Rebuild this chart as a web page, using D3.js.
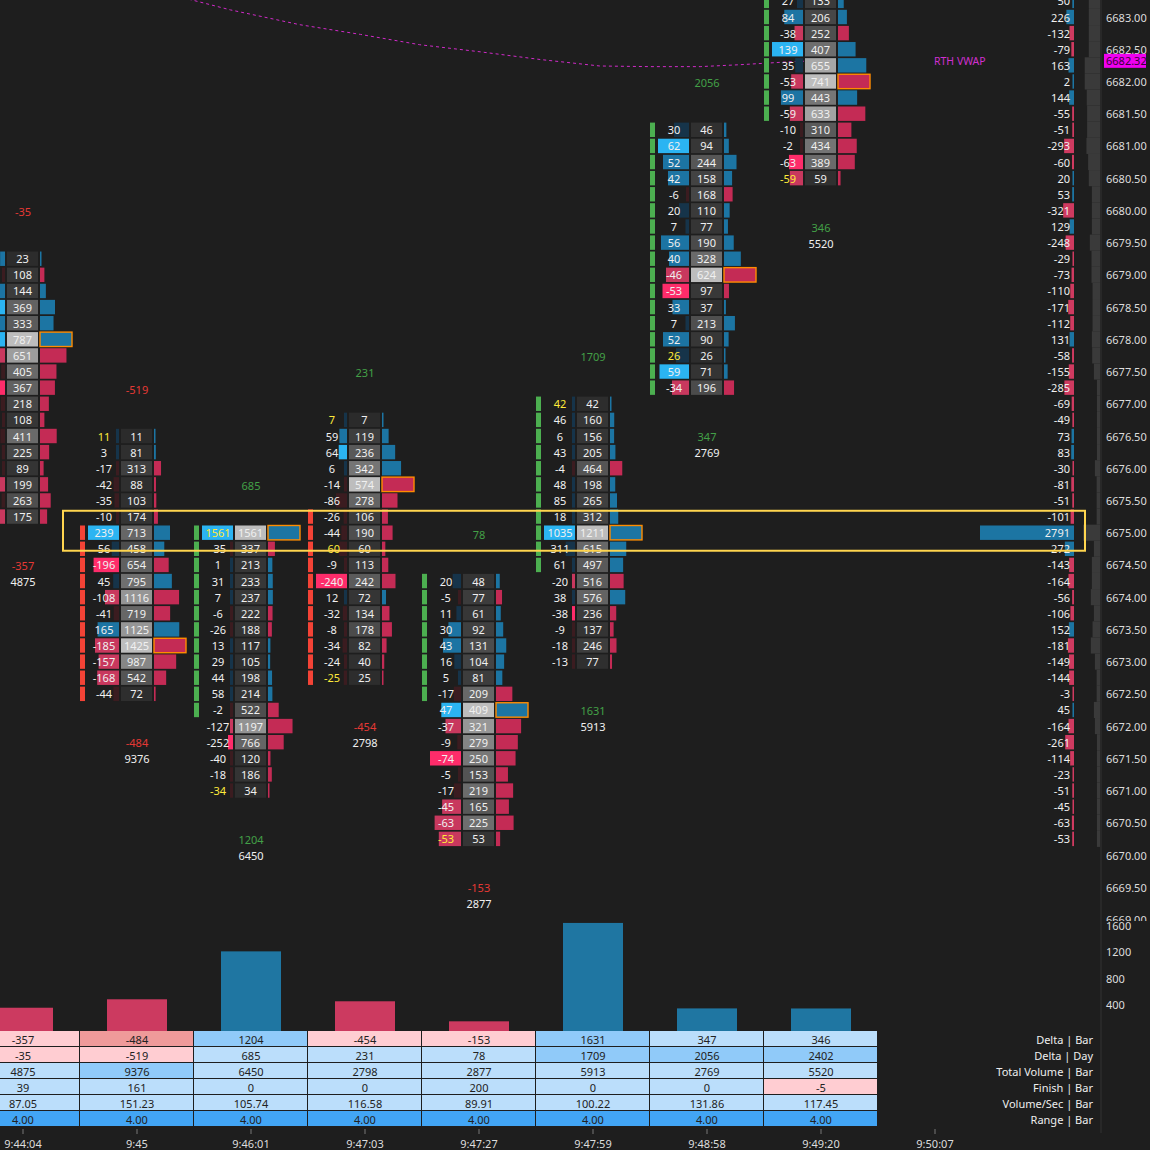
<!DOCTYPE html>
<html><head><meta charset="utf-8">
<script src="https://cdn.jsdelivr.net/npm/d3@7"></script>
<style>
html,body{margin:0;padding:0;background:#1e1e1e;overflow:hidden;}
svg{display:block;}
text{font-family:"Noto Sans","Open Sans",sans-serif;}
</style></head><body>
<svg id="c" width="1150" height="1150"></svg>
<script>
// ---------- DATA ----------
const times = ["9:44:04","9:45","9:46:01","9:47:03","9:47:27","9:47:59","9:48:58","9:49:20","9:50:07"];
const barTopPrice = [6679.25, 6676.50, 6675.00, 6676.75, 6674.25, 6677.00, 6681.25, 6684.50];
const bodyOpen  = [6679.00, 6675.00, 6672.25, 6675.25, 6672.50, 6674.50, 6677.25, 6681.50];
const bodyClose = [6675.25, 6672.50, 6675.00, 6672.75, 6674.25, 6677.00, 6681.25, 6684.50];

const bar1Delta  = [23,-12,28,43,30,44,-90,-18,-146,-20,-10,-22,-15,-9,-85,-16,-82];
const bar1Volume = [23,108,144,369,333,787,651,405,367,218,108,411,225,89,199,263,175];
const bar2Delta  = [11,3,-17,-42,-35,-10,239,56,-196,45,-108,-41,165,-185,-157,-168,-44];
const bar2Volume = [11,81,313,88,103,174,713,458,654,795,1116,719,1125,1425,987,542,72];
const bar3Delta  = [1561,-35,1,31,7,-6,-26,13,29,44,58,-2,-127,-252,-40,-18,-34];
const bar3Volume = [1561,337,213,233,237,222,188,117,105,198,214,522,1197,766,120,186,34];
const bar4Delta  = [7,59,64,6,-14,-86,-26,-44,-60,-9,-240,12,-32,-8,-34,-24,-25];
const bar4Volume = [7,119,236,342,574,278,106,190,60,113,242,72,134,178,82,40,25];
const bar5Delta  = [20,-5,11,30,43,16,5,-17,47,-37,-9,-74,-5,-17,-45,-63,-53];
const bar5Volume = [48,77,61,92,131,104,81,209,409,321,279,250,153,219,165,225,53];
const bar6Delta  = [42,46,6,43,-4,48,85,18,1035,311,61,-20,38,-38,-9,-18,-13];
const bar6Volume = [42,160,156,205,464,198,265,312,1211,615,497,516,576,236,137,246,77];
const bar7Delta  = [30,62,52,42,-6,20,7,56,40,-46,-53,33,7,52,26,59,-34];
const bar7Volume = [46,94,244,158,168,110,77,190,328,624,97,37,213,90,26,71,196];
const bar8Delta  = [31,52,64,45,54,27,84,-38,139,35,-53,99,-59,-10,-2,-63,-59];
const bar8Volume = [31,120,218,236,253,133,206,252,407,655,741,443,633,310,434,389,59];

const deltaBar    = [-357,-484,1204,-454,-153,1631,347,346];
const deltaDay    = [-35,-519,685,231,78,1709,2056,2402];
const totalVolume = [4875,9376,6450,2798,2877,5913,2769,5520];
const finishBar   = [39,161,0,0,200,0,0,-5];
const volumePerSec= [87.05,151.23,105.74,116.58,89.91,100.22,131.86,117.45];
const rangeBar    = [4,4,4,4,4,4,4,4];
const tableLabels = ["Delta | Bar","Delta | Day","Total Volume | Bar","Finish | Bar","Volume/Sec | Bar","Range | Bar"];

const profileTop = 6683.25;
const profileDelta = [50,226,-132,-79,163,2,144,-55,-51,-293,-60,20,53,-321,129,-248,-29,-73,-110,-171,-112,131,-58,-155,-285,-69,-49,73,83,-30,-81,-51,-101,2791,272,-143,-164,-56,-106,152,-181,-149,-144,-3,45,-164,-261,-114,-23,-51,-45,-63,-53];
const profileVolume = [2420,2420,2420,2420,3300,3300,2860,2790,2790,2930,2570,2420,1760,1760,1760,2200,1830,1830,1610,1610,1610,1760,1690,1320,660,660,660,660,660,1100,730,730,730,3675,1320,1760,1760,1980,1320,1610,1980,1100,730,730,1320,1100,660,660,660,660,660,660,660];

const vwapIndex = [1.25,1.82,2.43,2.96,3.48,4.01,4.54,5.06,5.5,5.94,6.29,6.77,7.0];
const vwapPrice = [6683.37,6683.11,6682.88,6682.73,6682.57,6682.46,6682.34,6682.24,6682.23,6682.23,6682.26,6682.31,6682.32];
const vwapLast = 6682.32;
const zoneHigh = 6675.34, zoneLow = 6674.72;
const priceTicks = d3.range(6683.0, 6668.9, -0.5);
const volTicks = [400,800,1200,1600];

const deltas = [bar1Delta,bar2Delta,bar3Delta,bar4Delta,bar5Delta,bar6Delta,bar7Delta,bar8Delta];
const volumes = [bar1Volume,bar2Volume,bar3Volume,bar4Volume,bar5Volume,bar6Volume,bar7Volume,bar8Volume];

// ---------- SCALES ----------
const svg = d3.select("#c");
const x = d3.scaleLinear().domain([0,8]).range([23,935]);
const y = d3.scaleLinear().domain([6670,6683]).range([855,17]);
const vy = d3.scaleLinear().domain([0,1600]).range([1031.5,925]);
const rowH = Math.abs(y(6670) - y(6670.25));
const cellH = rowH - 1.7;
const FS = "11px";

const C = {
  bg:"#1e1e1e", posB:"#2bb4f2", posM:"#1c74a3", posD:"#16344a",
  negB:"#fe2c6a", negM:"#c8385e", negD:"#3b1c20",
  histPos:"#1c75a3", histNeg:"#c42b55", green:"#4caf50", red:"#f44336",
  lblG:"#43a047", lblR:"#e53935", yellow:"#ffeb3b", txt:"#f0f0f0"
};

svg.append("rect").attr("width",1150).attr("height",1150).attr("fill",C.bg);
svg.append("clipPath").attr("id","axclip").append("rect").attr("x",1100).attr("y",0).attr("width",50).attr("height",921);

const pricePanel = svg.append("g");

// gray volume profile
const pMax = d3.max(profileVolume);
const pw = d3.scaleLinear().domain([0,pMax]).range([0,17]);
pricePanel.selectAll("rect.gp").data(profileVolume).join("rect")
  .attr("x",d=>1100-pw(d)).attr("width",d=>pw(d))
  .attr("y",(d,i)=>y(profileTop-0.25*i)-rowH/2).attr("height",rowH)
  .attr("fill","#3a3a3a");

// VWAP line
const vw = d3.line().x(d=>x(d[0])).y(d=>y(d[1]));
pricePanel.append("path").datum(vwapIndex.map((v,i)=>[v,vwapPrice[i]]))
  .attr("d",vw).attr("fill","none").attr("stroke","#d02ac8").attr("stroke-width",1)
  .attr("stroke-dasharray","3,3");

// footprint columns
deltas.forEach((dArr,bi)=>{
  const vArr = volumes[bi];
  const c = x(bi);
  const prices = dArr.map((d,k)=>barTopPrice[bi]-0.25*k);
  const posMax = d3.max(dArr.filter(d=>d>0)) || 1;
  const negMax = d3.max(dArr.filter(d=>d<0).map(d=>-d)) || 1;
  const absMax = d3.max(dArr,d=>Math.abs(d));
  const vMax = d3.max(vArr);
  const g = pricePanel.append("g");
  const lo = Math.min(bodyOpen[bi],bodyClose[bi]), hi = Math.max(bodyOpen[bi],bodyClose[bi]);
  const stripCol = bodyClose[bi] > bodyOpen[bi] ? C.green : C.red;
  const dw = d3.scaleLinear().domain([0,absMax]).range([0,31]);
  const hw = d3.scaleLinear().domain([0,vMax]).range([0,32]);
  const gray = v => { const r = Math.pow(v/vMax,1.3); const k = Math.round(43 + 146*r); return `rgb(${k},${k},${k})`; };
  prices.forEach((p,k)=>{
    const d = dArr[k], v = vArr[k], yc = y(p), yt = yc - cellH/2;
    if (p >= lo-1e-6 && p <= hi+1e-6) {
      g.append("rect").attr("x",c-57).attr("y",yt).attr("width",5).attr("height",cellH).attr("fill",stripCol);
    }
    const r = d>0 ? d/posMax : -d/negMax;
    const tier = r>=0.95 ? 2 : (r>=0.5 ? 1 : 0);
    const col = d>0 ? [C.posD,C.posM,C.posB][tier] : [C.negD,C.negM,C.negB][tier];
    const w = Math.max(3, dw(Math.abs(d)));
    g.append("rect").attr("x",c-18-w).attr("y",yt).attr("width",w).attr("height",cellH).attr("fill",col);
    g.append("rect").attr("x",c-16).attr("y",yt).attr("width",31).attr("height",cellH).attr("fill",gray(v));
    const hwid = Math.max(1.5,hw(v));
    const hr = g.append("rect").attr("x",c+17).attr("y",yt).attr("width",hwid).attr("height",cellH)
      .attr("fill",d>=0?C.histPos:C.histNeg);
    if (v===vMax) hr.attr("stroke","#ff8c00").attr("stroke-width",1.4);
    if (c-33 > 8 && yc > -6) {
      g.append("text").attr("x",c-33).attr("y",yc).attr("text-anchor","middle").attr("dominant-baseline","central")
        .attr("font-size",FS).attr("fill",Math.abs(d)===v?C.yellow:C.txt).text(d);
    }
    if (yc > -6) {
      g.append("text").attr("x",c-0.5).attr("y",yc).attr("text-anchor","middle").attr("dominant-baseline","central")
        .attr("font-size",FS).attr("fill",C.txt).text(v);
    }
  });
  const yTop = y(prices[0]), yBot = y(prices[prices.length-1]);
  if (yTop-47 > 0) {
    g.append("text").attr("x",c).attr("y",yTop-47).attr("text-anchor","middle").attr("dominant-baseline","central")
      .attr("font-size",FS).attr("fill",deltaDay[bi]>=0?C.lblG:C.lblR).text(deltaDay[bi]);
  }
  g.append("text").attr("x",c).attr("y",yBot+49).attr("text-anchor","middle").attr("dominant-baseline","central")
    .attr("font-size",FS).attr("fill",deltaBar[bi]>=0?C.lblG:C.lblR).text(deltaBar[bi]);
  g.append("text").attr("x",c).attr("y",yBot+65).attr("text-anchor","middle").attr("dominant-baseline","central")
    .attr("font-size",FS).attr("fill",C.txt).text(totalVolume[bi]);
});

// right delta profile
const pdMax = d3.max(profileDelta,d=>Math.abs(d));
const pdw = d3.scaleLinear().domain([0,pdMax]).range([0,94]);
profileDelta.forEach((d,i)=>{
  const yc = y(profileTop-0.25*i);
  const w = Math.max(1.5,pdw(Math.abs(d)));
  pricePanel.append("rect").attr("x",1074-w).attr("y",yc-cellH/2).attr("width",w).attr("height",cellH)
    .attr("fill",d>=0?C.histPos:"#cf3a60");
  pricePanel.append("text").attr("x",1070).attr("y",yc).attr("text-anchor","end").attr("dominant-baseline","central")
    .attr("font-size",FS).attr("fill",C.txt).text(d);
});

// RTH VWAP label
pricePanel.append("text").attr("x",934).attr("y",y(vwapLast)).attr("dominant-baseline","central")
  .attr("font-size","10.5px").attr("fill","#d030d0").text("RTH VWAP");

// zone box
pricePanel.append("rect").attr("x",63).attr("width",1022).attr("y",y(zoneHigh)).attr("height",y(zoneLow)-y(zoneHigh))
  .attr("fill","none").attr("stroke","#ffd54f").attr("stroke-width",2);

// axis line
svg.append("line").attr("x1",1101).attr("x2",1101).attr("y1",0).attr("y2",1133).attr("stroke","#333").attr("stroke-width",1);

// price axis labels (clipped at the panel bottom)
const axG = svg.append("g").attr("clip-path","url(#axclip)");
priceTicks.forEach(p=>{
  axG.append("text").attr("x",1106).attr("y",y(p)).attr("dominant-baseline","central")
    .attr("font-size",FS).attr("fill","#dddddd").text(p.toFixed(2));
});
// VWAP price tag
svg.append("rect").attr("x",1104).attr("y",y(vwapLast)-7).attr("width",42).attr("height",14).attr("fill","#f000f0");
svg.append("text").attr("x",1106).attr("y",y(vwapLast)).attr("dominant-baseline","central")
  .attr("font-size",FS).attr("fill","#3a003a").text(vwapLast.toFixed(2));

// volume (delta) panel
deltaBar.forEach((d,i)=>{
  svg.append("rect").attr("x",x(i)-30).attr("width",60).attr("y",vy(Math.abs(d))).attr("height",vy(0)-vy(Math.abs(d)))
    .attr("fill",d>=0?"#1f76a2":"#cc3a60");
});
volTicks.forEach(t=>{
  svg.append("text").attr("x",1106).attr("y",vy(t)).attr("dominant-baseline","central")
    .attr("font-size",FS).attr("fill","#dddddd").text(t);
});

// table
const tRows = [deltaBar,deltaDay,totalVolume,finishBar,volumePerSec,rangeBar];
const fmt = [d=>d,d=>d,d=>d,d=>d,d=>d.toFixed(2),d=>d.toFixed(2)];
const colorFn = [
  v=> v<0 ? (v<=-480?"#ef9a9a":"#ffcdd2") : (v>=1000?"#90caf9":"#bbdefb"),
  v=> v<0 ? "#ffcdd2" : (v>=1000?"#90caf9":"#bbdefb"),
  v=> v>=9000?"#90caf9":"#bbdefb",
  v=> v<0?"#ffcdd2":"#bbdefb",
  v=> "#bbdefb",
  v=> "#42a5f5"
];
const tTop = 1031, tRowH = 16;
tRows.forEach((arr,r)=>{
  const yt = tTop + r*tRowH;
  arr.forEach((v,i)=>{
    const c = x(i);
    svg.append("rect").attr("x",c-57).attr("y",yt).attr("width",113).attr("height",tRowH-1)
      .attr("fill",colorFn[r](v));
    svg.append("text").attr("x",c).attr("y",yt+tRowH/2).attr("text-anchor","middle").attr("dominant-baseline","central")
      .attr("font-size",FS).attr("fill","#222").text(fmt[r](v));
  });
  svg.append("text").attr("x",1093).attr("y",yt+tRowH/2).attr("text-anchor","end").attr("dominant-baseline","central")
    .attr("font-size",FS).attr("fill","#eeeeee").text(tableLabels[r]);
});

// time axis
times.forEach((t,i)=>{
  svg.append("line").attr("x1",x(i)).attr("x2",x(i)).attr("y1",1129).attr("y2",1134).attr("stroke","#777");
  svg.append("text").attr("x",Math.max(x(i),22)).attr("y",1143).attr("text-anchor","middle").attr("dominant-baseline","central")
    .attr("font-size",FS).attr("fill","#dddddd").text(t);
});
</script>
</body></html>
